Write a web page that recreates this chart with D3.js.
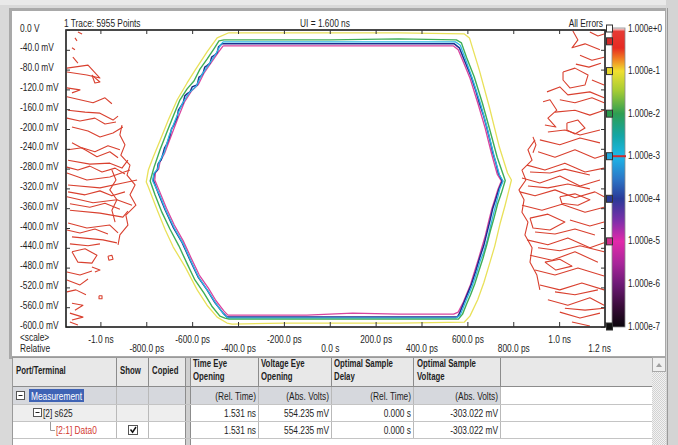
<!DOCTYPE html>
<html><head><meta charset="utf-8">
<script src="https://cdn.jsdelivr.net/npm/d3@7"></script>
<style>
html,body{margin:0;padding:0;background:#fff;overflow:hidden}
svg{display:block;font-family:"Liberation Sans",Arial,sans-serif}
</style></head><body>
<svg id="c" width="678" height="445"></svg>
<script>
// ---------------- DATA ----------------
const headerTrace = "1 Trace: 5955 Points";
const headerUI = "UI = 1.600 ns";
const headerErrors = "All Errors";
const scaleLabels = ["<scale>", "Relative"];

const xTickValues = [-1000,-800,-600,-400,-200,0,200,400,600,800,1000,1200]; // ps
const xTickLabels = ["-1.0 ns","-800.0 ps","-600.0 ps","-400.0 ps","-200.0 ps","0.0 s","200.0 ps","400.0 ps","600.0 ps","800.0 ps","1.0 ns","1.2 ns"];
const yTickValues = [0,-40,-80,-120,-160,-200,-240,-280,-320,-360,-400,-440,-480,-520,-560,-600]; // mV
const yTickLabels = ["0.0 V","-40.0 mV","-80.0 mV","-120.0 mV","-160.0 mV","-200.0 mV","-240.0 mV","-280.0 mV","-320.0 mV","-360.0 mV","-400.0 mV","-440.0 mV","-480.0 mV","-520.0 mV","-560.0 mV","-600.0 mV"];

const colorLevels = [1,1e-1,1e-2,1e-3,1e-4,1e-5,1e-6,1e-7];
const colorLabels = ["1.000e+0","1.000e-1","1.000e-2","1.000e-3","1.000e-4","1.000e-5","1.000e-6","1.000e-7"];
const markerLevels = [1,0.5,1e-1,1e-2,1e-3,1e-4,1e-5,1e-7];
const selectedLevel = 1e-3;

// eye contours: [time ps, voltage mV]
const contourYellow = [[-443,-6],[-200,-6],[0,-6],[300,-6],[587,-8],[609,-16],[652,-81],[696,-156],[739,-236],[775,-289],[792,-303],
 [782,-322],[764,-355],[742,-392],[719,-437],[698,-470],[672,-510],[645,-545],[611,-578],[587,-590],
 [300,-592],[0,-592],[-200,-592],[-426,-594],
 [-448,-592],[-491,-580],[-535,-556],[-578,-525],[-630,-479],[-683,-438],[-717,-404],[-752,-364],[-791,-317],[-800,-307],
 [-791,-283],[-770,-257],[-739,-222],[-704,-182],[-665,-141],[-622,-107],[-587,-81],[-535,-44],[-491,-16],[-443,-6]];
const contourGreen = [[-461,-20],[-300,-20],[0,-20],[300,-18],[552,-20],[574,-26],[596,-55],[630,-95],[665,-147],[698,-202],[730,-257],[765,-304],
 [748,-330],[732,-351],[716,-380],[700,-406],[684,-435],[668,-461],[650,-487],[632,-513],[614,-535],[597,-553],[579,-574],[561,-584],
 [300,-584],[0,-584],[-300,-584],[-439,-584],
 [-457,-582],[-479,-578],[-514,-558],[-549,-531],[-588,-505],[-623,-471],[-658,-436],[-697,-402],[-732,-368],[-762,-333],[-783,-305],
 [-766,-277],[-740,-242],[-710,-206],[-679,-170],[-653,-141],[-622,-119],[-592,-103],[-566,-79],[-535,-59],[-505,-38],[-483,-22],[-461,-20]];
const contourCyan = [[-465,-24],[-300,-24],[0,-24],[300,-24],[548,-24],[569,-31],[591,-58],[621,-97],[656,-147],[687,-199],[715,-252],[740,-293],[756,-305],
 [742,-320],[728,-346],[714,-371],[701,-396],[688,-422],[671,-449],[657,-465],[640,-491],[622,-516],[592,-549],[569,-576],[552,-582],
 [300,-582],[0,-582],[-300,-582],[-444,-582],
 [-461,-575],[-496,-553],[-530,-528],[-570,-501],[-604,-468],[-639,-432],[-678,-400],[-713,-366],[-744,-331],[-772,-305],
 [-767,-290],[-750,-280],[-743,-266],[-722,-248],[-700,-213],[-670,-178],[-643,-149],[-613,-127],[-582,-113],[-556,-89],[-526,-69],[-496,-48],[-476,-30],[-465,-24]];
const contourMagenta = [[-465,-32],[-300,-32],[0,-32],[300,-32],[538,-32],[560,-40],[582,-64],[612,-98],[647,-150],[678,-199],[706,-251],[730,-291],[748,-305],
 [733,-322],[720,-342],[706,-362],[692,-388],[679,-414],[648,-463],[613,-515],[583,-549],[560,-570],[540,-574],
 [300,-574],[100,-572],[-100,-576],[-300,-576],[-444,-576],
 [-461,-568],[-496,-547],[-530,-521],[-569,-495],[-604,-461],[-639,-426],[-678,-394],[-712,-360],[-743,-325],[-763,-303],
 [-760,-288],[-746,-281],[-740,-266],[-721,-250],[-690,-212],[-660,-176],[-634,-146],[-604,-124],[-573,-110],[-547,-86],[-517,-66],[-486,-45],[-465,-32]];
const contourBlue = [[-470,-28],[-300,-28],[-100,-28],[100,-28],[300,-28],[543,-28],[565,-36],[587,-61],[604,-80],[617,-95],[635,-120],[652,-147],[670,-172],[684,-196],[698,-222],[711,-248],[725,-270],[735,-289],[752,-305],
 [737,-322],[725,-340],[711,-360],[698,-386],[684,-412],[671,-436],[653,-461],[636,-488],[618,-513],[605,-528],[588,-547],[566,-572],[556,-580],
 [300,-580],[100,-580],[-100,-580],[-300,-580],[-448,-580],
 [-465,-572],[-500,-551],[-535,-525],[-574,-499],[-609,-465],[-643,-430],[-683,-398],[-717,-364],[-748,-329],[-770,-303],
 [-765,-290],[-752,-283],[-748,-270],[-735,-262],[-726,-248],[-720,-238],[-710,-230],[-696,-212],[-690,-200],[-680,-192],[-665,-176],[-660,-162],[-650,-155],[-639,-147],[-632,-133],[-620,-128],[-609,-125],[-600,-115],[-590,-113],[-578,-111],[-570,-95],[-560,-92],[-552,-87],[-545,-75],[-535,-72],[-522,-67],[-515,-55],[-500,-50],[-491,-46],[-485,-34],[-470,-28]];

// error-region contours outside the eye
const errorContoursLeft = [
 [[-1098,-4],[-1080,-8]],
 [[-1111,-16],[-1102,-22]],
 [[-1124,-36],[-1111,-40]],
 [[-1120,-55],[-1098,-67]],
 [[-1146,-77],[-1054,-71],[-1002,-97],[-1059,-91],[-1146,-85]],
 [[-1037,-91],[-1002,-105],[-1024,-107],[-1037,-91]],
 [[-1146,-117],[-1089,-121],[-1124,-127]],
 [[-1146,-135],[-1089,-141],[-1032,-147],[-980,-137],[-950,-149]],
 [[-1141,-162],[-1067,-166],[-1002,-168],[-945,-182],[-923,-174]],
 [[-1146,-178],[-1089,-184],[-1024,-178],[-980,-190],[-932,-186]],
 [[-1124,-196],[-1054,-204],[-1002,-216],[-945,-208],[-902,-196]],
 [[-1124,-228],[-1067,-242],[-1015,-256],[-959,-246],[-923,-258]],
 [[-1141,-242],[-1080,-238],[-1024,-246],[-967,-234],[-915,-242]],
 [[-1141,-263],[-1046,-271],[-959,-269],[-906,-279],[-880,-263]],
 [[-1146,-277],[-1098,-283],[-1046,-275],[-993,-287],[-936,-279],[-893,-291]],
 [[-1146,-289],[-1059,-303],[-959,-297],[-871,-283]],
 [[-1141,-313],[-1002,-319],[-902,-309],[-840,-303]],
 [[-1141,-327],[-1067,-333],[-1002,-325],[-950,-335],[-893,-327]],
 [[-1146,-337],[-1032,-349],[-928,-343],[-862,-354]],
 [[-1133,-351],[-1046,-358],[-980,-350],[-915,-362]],
 [[-1133,-364],[-1002,-370],[-902,-378],[-880,-366]],
 [[-1141,-390],[-1059,-400],[-959,-394],[-923,-410]],
 [[-1146,-404],[-1089,-410],[-1024,-402],[-967,-412]],
 [[-1124,-418],[-989,-424],[-928,-430]],
 [[-1133,-432],[-1054,-436],[-1002,-432]],
 [[-1124,-448],[-1067,-442],[-1015,-455],[-1037,-471],[-1098,-469],[-1124,-448]],
 [[-967,-457],[-950,-455],[-945,-463],[-963,-465],[-967,-457]],
 [[-1037,-479],[-1002,-485],[-1024,-489]],
 [[-1146,-489],[-1089,-495],[-1037,-487]],
 [[-1146,-505],[-1089,-515],[-1054,-503]],
 [[-1146,-529],[-1107,-525],[-1063,-535]],
 [[-1006,-537],[-993,-537],[-993,-543],[-1006,-543],[-1006,-537]],
 [[-1124,-552],[-1076,-556],[-1111,-566]],
 [[-1133,-572],[-1076,-580],[-1124,-586]],
 [[-1133,-590],[-1098,-596]],
 [[-906,-192],[-915,-212],[-893,-232],[-911,-253],[-871,-273],[-884,-293],[-849,-313],[-871,-333],[-845,-354],[-889,-374],[-880,-394],[-915,-414],[-923,-434]],
 [[-950,-283],[-932,-303],[-959,-323],[-928,-343],[-950,-364],[-936,-388]]
];
const errorContoursRight = [
 [[1060,-2],[1082,-20],[1056,-36],[1113,-28],[1178,-40]],
 [[1134,-4],[1169,-12],[1196,-8]],
 [[1091,-51],[1143,-61],[1196,-55]],
 [[1073,-69],[1130,-75],[1182,-67]],
 [[1017,-85],[1069,-77],[1126,-91],[1113,-111],[1047,-117],[1017,-101],[1017,-85]],
 [[1143,-101],[1196,-111]],
 [[947,-125],[1003,-115],[1038,-131],[1134,-125],[1196,-137]],
 [[1003,-141],[1069,-147],[1143,-137],[1196,-147]],
 [[930,-145],[960,-141],[990,-162],[951,-178],[986,-196],[938,-192]],
 [[1034,-188],[1082,-182],[1113,-198],[1069,-210],[1034,-202],[1034,-188]],
 [[982,-166],[1069,-162],[1134,-172],[1196,-162]],
 [[951,-206],[1025,-202],[1091,-212],[1178,-202]],
 [[886,-216],[899,-232],[886,-248]],
 [[916,-222],[1003,-232],[1091,-218],[1178,-228]],
 [[908,-246],[982,-257],[1069,-242],[1156,-259],[1196,-253]],
 [[860,-273],[938,-283],[1025,-269],[1113,-287],[1196,-279]],
 [[873,-287],[960,-289],[1025,-281],[1134,-293]],
 [[838,-299],[916,-309],[1003,-295],[1091,-315],[1178,-303]],
 [[864,-315],[951,-319],[1038,-311],[1134,-321]],
 [[829,-327],[895,-335],[982,-323],[1069,-339],[1156,-327],[1196,-337]],
 [[1003,-337],[1069,-331],[1134,-343],[1082,-354],[1012,-350],[1003,-337]],
 [[838,-354],[925,-364],[1012,-352],[1113,-368],[1196,-358]],
 [[873,-380],[951,-372],[1025,-388],[960,-404],[886,-400],[873,-380]],
 [[1047,-384],[1134,-396],[1196,-388]],
 [[895,-408],[982,-412],[1069,-402],[1156,-414]],
 [[860,-424],[951,-434],[1038,-420],[1134,-440],[1196,-430]],
 [[908,-440],[1003,-446],[1091,-436],[1196,-448]],
 [[873,-455],[969,-465],[1069,-448],[1169,-469]],
 [[938,-469],[1003,-463],[1056,-477],[986,-485],[938,-469]],
 [[895,-485],[982,-495],[1082,-481],[1196,-497]],
 [[916,-515],[1003,-525],[1099,-511],[1196,-525]],
 [[982,-529],[1069,-535],[1169,-525]],
 [[951,-545],[1038,-556],[1134,-541],[1196,-556]],
 [[1025,-562],[1113,-566],[1196,-562]],
 [[1003,-570],[1091,-582],[1178,-572]],
 [[1056,-590],[1134,-598]],
 [[895,-222],[864,-242],[882,-263],[838,-283],[855,-303],[825,-323],[847,-343],[838,-368],[864,-388],[851,-414],[882,-440],[873,-469],[903,-495],[916,-525]]
];

// table
const tableHeaders = [["Port/Terminal"],["Show"],["Copied"],["Time Eye","Opening"],["Voltage Eye","Opening"],["Optimal Sample","Delay"],["Optimal Sample","Voltage"]];
const unitsRow = ["(Rel. Time)","(Abs. Volts)","(Rel. Time)","(Abs. Volts)"];
const treeRows = ["Measurement","[2] s625","[2:1] Data0"];
const valueRows = [["1.531 ns","554.235 mV","0.000 s","-303.022 mV"],["1.531 ns","554.235 mV","0.000 s","-303.022 mV"]];

// ---------------- STYLE ----------------
const C = {yellow:"#e9e15a", green:"#3fae55", cyan:"#2fb6e4", magenta:"#d9449f", blue:"#1d2f8f", red:"#d9402f"};
const markerFill = ["#ffffff","#d42828","#e8d82a","#2a9a4c","#22a8dc","#2a3a98","#d2308f","#111111"];
const gradStops = [[1,"#f6dada"],[0.85,"#e63a34"],[0.35,"#e62a22"],[0.2,"#f07a22"],[0.1,"#f0e030"],[0.035,"#a6cc34"],[0.01,"#2e9e52"],[0.003,"#14a6a6"],[0.001,"#1cb8e8"],[3e-4,"#2c78c8"],[1e-4,"#2a3a98"],[3e-5,"#7e30aa"],[1e-5,"#e22aaa"],[3e-6,"#a8269a"],[1e-6,"#6e1a76"],[3e-7,"#3a0c3a"],[1e-7,"#0c060c"]];

// ---------------- DRAW ----------------
const W=678,H=445,SX=0.76;
const svg=d3.select("#c");
function T(g,x,y,s,o={}){
  return g.append("text").attr("transform",`translate(${x},${y}) scale(${o.sx||SX},1)`)
    .attr("text-anchor",o.anchor||"start").attr("font-size",o.size||11)
    .attr("font-weight",o.weight||"normal").attr("fill",o.fill||"#1e1e1e").text(s);
}

// window chrome
svg.append("rect").attr("width",W).attr("height",H).attr("fill","#d9d9d9");
svg.append("rect").attr("x",0).attr("y",0).attr("width",W).attr("height",5).attr("fill","#e9e9e9");
svg.append("rect").attr("x",10.5).attr("y",9.5).attr("width",656).attr("height",348).attr("fill","#fff").attr("stroke","#a9a9a9").attr("stroke-width",3);
svg.append("rect").attr("x",666).attr("y",0).attr("width",12).attr("height",H).attr("fill","#d4d4d4");
svg.append("line").attr("x1",667.5).attr("x2",667.5).attr("y1",8).attr("y2",H).attr("stroke","#9a9a9a");

const x=d3.scaleLinear().domain([-1150,1200]).range([66,605]);
const y=d3.scaleLinear().domain([0,-600]).range([30,327]);
const line=d3.line().x(d=>x(d[0])).y(d=>y(d[1]));

svg.append("clipPath").attr("id","pc").append("rect").attr("x",66).attr("y",30).attr("width",539).attr("height",297);
const plot=svg.append("g").attr("clip-path","url(#pc)");

plot.selectAll("path.err").data(errorContoursLeft.concat(errorContoursRight)).join("path").attr("class","err")
  .attr("d",line).attr("fill","none").attr("stroke",C.red).attr("stroke-width",1.1).attr("stroke-linejoin","round");

[[contourYellow,C.yellow,1.3],[contourMagenta,C.magenta,1.3],[contourBlue,C.blue,1.5],[contourCyan,C.cyan,1.3],[contourGreen,C.green,1.4]]
 .forEach(([d,c,w])=>plot.append("path").attr("d",line(d)).attr("fill","none").attr("stroke",c).attr("stroke-width",w).attr("stroke-linejoin","round"));

// frame
svg.append("rect").attr("x",66).attr("y",30).attr("width",539).attr("height",297).attr("fill","none").attr("stroke","#1c1c1c").attr("stroke-width",1.6);

function styleAxis(g){g.select(".domain").remove();g.attr("font-family",null).attr("font-size",null);g.selectAll(".tick line").attr("stroke","#333");}
const gx=svg.append("g").attr("transform","translate(0,327)")
  .call(d3.axisBottom(x).tickValues(xTickValues).tickFormat(d=>xTickLabels[xTickValues.indexOf(d)]).tickSize(-5));
styleAxis(gx);
gx.selectAll("text").attr("y",0).attr("dy",null).attr("font-size",11).attr("fill","#1e1e1e")
  .attr("transform",(d,i)=>`translate(${i===xTickValues.length-1?-6:0},${i%2?25:16}) scale(${SX},1)`);
const gt=svg.append("g").attr("transform","translate(0,30)").call(d3.axisTop(x).tickValues(xTickValues).tickFormat("").tickSize(-4));
styleAxis(gt);
const gy=svg.append("g").attr("transform","translate(66,0)")
  .call(d3.axisLeft(y).tickValues(yTickValues).tickFormat(d=>yTickLabels[yTickValues.indexOf(d)]).tickSize(-4));
styleAxis(gy);
gy.selectAll("text").attr("x",0).attr("y",0).attr("dy",null).attr("text-anchor","start").attr("font-size",11).attr("fill","#1e1e1e")
  .attr("transform",`translate(-46,1) scale(${SX},1)`);
const gr=svg.append("g").attr("transform","translate(605,0)").call(d3.axisRight(y).tickValues(yTickValues).tickFormat("").tickSize(-4));
styleAxis(gr);

// header texts
T(svg,64,27,headerTrace);
T(svg,325,27,headerUI,{anchor:"middle"});
T(svg,603,27,headerErrors,{anchor:"end"});
T(svg,20,341,scaleLabels[0]);
T(svg,20,352,scaleLabels[1]);

// colorbar
const cb=d3.scaleLog().domain([1,1e-7]).range([28.5,326.5]);
const grad=svg.append("defs").append("linearGradient").attr("id","cg").attr("x1",0).attr("y1",0).attr("x2",0).attr("y2",1);
grad.selectAll("stop").data(gradStops).join("stop").attr("offset",d=>(cb(d[0])-28)/299).attr("stop-color",d=>d[1]);
svg.append("rect").attr("x",612).attr("y",28).attr("width",13).attr("height",299).attr("fill","url(#cg)").attr("stroke","#8a8a8a").attr("stroke-width",0.8);
svg.append("line").attr("x1",609).attr("x2",626).attr("y1",cb(selectedLevel)).attr("y2",cb(selectedLevel)).attr("stroke","#d22a2a").attr("stroke-width",2);
svg.selectAll("rect.mk").data(markerLevels).join("rect").attr("class","mk")
  .attr("x",606.5).attr("y",d=>cb(d)-3.5).attr("width",6).attr("height",7)
  .attr("fill",(d,i)=>markerFill[i]).attr("stroke","#333").attr("stroke-width",1);
colorLevels.forEach((l,i)=>T(svg,628,cb(l)+3,colorLabels[i],{sx:0.74}));

// ---------------- TABLE ----------------
const tb=svg.append("g");
tb.append("rect").attr("x",12).attr("y",357).attr("width",640).attr("height",88).attr("fill","#fff");
tb.append("rect").attr("x",12).attr("y",357).attr("width",640).attr("height",30).attr("fill","#e8e8e8");
tb.append("rect").attr("x",12).attr("y",387).attr("width",488).attr("height",17).attr("fill","#d6d8dd");
tb.append("rect").attr("x",12).attr("y",404).attr("width",175).attr("height",17).attr("fill","#eeeeee");
const colX=[116,148,258,331,413,500];
colX.forEach(cx=>{
  tb.append("line").attr("x1",cx+0.5).attr("x2",cx+0.5).attr("y1",357).attr("y2",387).attr("stroke","#8c8c8c");
  tb.append("line").attr("x1",cx+0.5).attr("x2",cx+0.5).attr("y1",387).attr("y2",438).attr("stroke","#b9b9b9");
});
tb.append("rect").attr("x",186).attr("y",357).attr("width",4).attr("height",88).attr("fill","#cfcfcf");
tb.append("line").attr("x1",185.5).attr("x2",185.5).attr("y1",357).attr("y2",445).attr("stroke","#8c8c8c");
tb.append("line").attr("x1",190.5).attr("x2",190.5).attr("y1",357).attr("y2",445).attr("stroke","#8c8c8c");
tb.append("line").attr("x1",12).attr("x2",652).attr("y1",386.5).attr("y2",386.5).attr("stroke","#8c8c8c");
[404,421,438].forEach(hy=>tb.append("line").attr("x1",12).attr("x2",652).attr("y1",hy+0.5).attr("y2",hy+0.5).attr("stroke","#c4c4c4"));
tb.append("line").attr("x1",12).attr("x2",652).attr("y1",357.5).attr("y2",357.5).attr("stroke","#9a9a9a");
tb.append("line").attr("x1",12.5).attr("x2",12.5).attr("y1",357).attr("y2",445).attr("stroke","#9a9a9a");

const hx=[16,120,152,193,261,334,417];
tableHeaders.forEach((h,i)=>{
  if(h.length===1) T(tb,hx[i],374,h[0],{weight:"bold",sx:0.71});
  else {T(tb,hx[i],367,h[0],{weight:"bold",sx:0.71});T(tb,hx[i],380,h[1],{weight:"bold",sx:0.71});}
});
const vx=[256,329,411,498];
unitsRow.forEach((u,i)=>T(tb,vx[i],400,u,{anchor:"end"}));
valueRows.forEach((r,j)=>r.forEach((v,i)=>T(tb,vx[i],417+17*j,v,{anchor:"end"})));

// tree column
function box(bx,by){
  tb.append("rect").attr("x",bx+0.5).attr("y",by+0.5).attr("width",8).attr("height",8).attr("fill","#fff").attr("stroke","#555");
  tb.append("line").attr("x1",bx+2.5).attr("x2",bx+6.5).attr("y1",by+4.5).attr("y2",by+4.5).attr("stroke","#222");
}
box(16,391);
tb.append("rect").attr("x",29).attr("y",389).attr("width",55).attr("height",13).attr("fill","#3f63b5");
T(tb,31,399.5,treeRows[0],{fill:"#ffffff"});
box(33,408);
T(tb,43,417,treeRows[1]);
tb.append("path").attr("d","M50.5,422V430.5H55").attr("fill","none").attr("stroke","#9a9a9a");
T(tb,56,434,treeRows[2],{fill:"#d33a30"});
tb.append("rect").attr("x",128.5).attr("y",425.5).attr("width",9).attr("height",9).attr("fill","#fff").attr("stroke","#555");
tb.append("path").attr("d","M130.5,429.5L132.6,432.2L136,427").attr("fill","none").attr("stroke","#111").attr("stroke-width",1.5);

// scrollbar
const pat=svg.select("defs").append("pattern").attr("id","sp").attr("width",2).attr("height",2).attr("patternUnits","userSpaceOnUse");
pat.append("rect").attr("width",2).attr("height",2).attr("fill","#f2f2f2");
pat.append("rect").attr("width",1).attr("height",1).attr("fill","#d2d2d2");
pat.append("rect").attr("x",1).attr("y",1).attr("width",1).attr("height",1).attr("fill","#d2d2d2");
tb.append("rect").attr("x",652).attr("y",357).attr("width",14).attr("height",88).attr("fill","url(#sp)");
tb.append("rect").attr("x",652.5).attr("y",357.5).attr("width",13).attr("height",14).attr("fill","#efefef").attr("stroke","#a8a8a8");
tb.append("path").attr("d","M656,367L659,363L662,367Z").attr("fill","#a0a0a0");
</script></body></html>
